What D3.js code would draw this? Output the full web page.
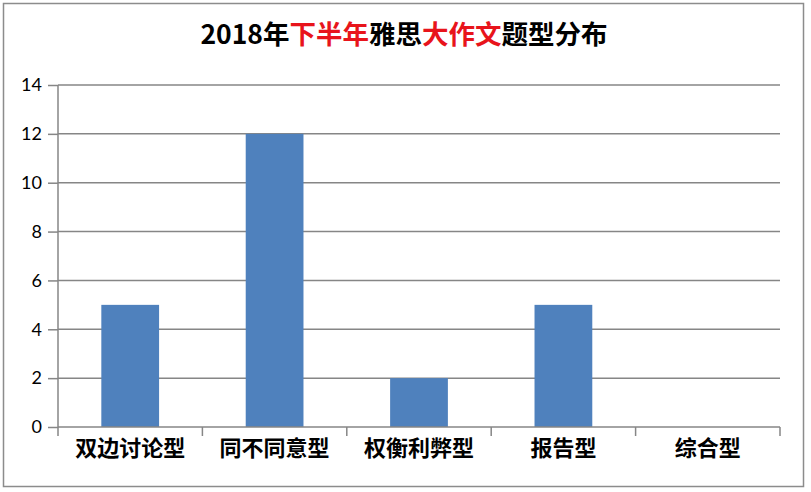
<!DOCTYPE html>
<html><head><meta charset="utf-8">
<script src="https://cdn.jsdelivr.net/npm/d3@7"></script>
<style>body{margin:0;background:#fff}svg{display:block}</style>
</head><body>
<svg id="c" width="811" height="492"></svg>
<script>
const categories = ["双边讨论型","同不同意型","权衡利弊型","报告型","综合型"];
const values = [5,12,2,5,0];
const yTicks = [0,2,4,6,8,10,12,14];
const titleParts = [["2018年","#000"],["下半年","#e8141b"],["雅思","#000"],["大作文","#e8141b"],["题型分布","#000"]];

const svg = d3.select("#c");
const L=58, R=780, T=85, B=427;
const x = d3.scaleBand().domain(categories).range([L,R]).paddingInner(0.6).paddingOuter(0.3);
const xb = d3.scaleBand().domain(categories).range([L,R]);
const y = d3.scaleLinear().domain([0,14]).range([B,T]);

svg.append("rect").attr("x",3.5).attr("y",3.5).attr("width",800).attr("height",483)
  .attr("fill","#fff").attr("stroke","#8c8c8c").attr("stroke-width",1.5);

const t = svg.append("text").attr("x",404).attr("y",44).attr("text-anchor","middle")
  .attr("font-family","'Noto Sans CJK SC',sans-serif").attr("font-weight","bold").attr("font-size",26.5);
titleParts.forEach(p=>t.append("tspan").attr("fill",p[1]).text(p[0]));

// gridlines
svg.append("g").selectAll("line").data(yTicks.filter(d=>d>0)).join("line")
  .attr("x1",L).attr("x2",R).attr("y1",d=>y(d)).attr("y2",d=>y(d))
  .attr("stroke","#868686").attr("stroke-width",1.5);

// y axis
const ya = svg.append("g").attr("transform",`translate(${L},0)`)
  .call(d3.axisLeft(y).tickValues(yTicks).tickSize(10).tickPadding(6).tickFormat(d3.format("d")));
ya.select(".domain").attr("stroke","#868686").attr("stroke-width",1.5).attr("d",`M0,${B}V${T}`);
ya.selectAll(".tick line").attr("stroke","#868686").attr("stroke-width",1.5);
ya.selectAll("text").attr("font-family","Lato,'Open Sans',sans-serif").attr("font-size",18).attr("fill","#000");

// bars
svg.append("g").selectAll("rect").data(values).join("rect")
  .attr("x",(d,i)=>x(categories[i])).attr("width",x.bandwidth())
  .attr("y",d=>y(d)).attr("height",d=>B-y(d)).attr("fill","#4f81bd");

// x axis
const xa = svg.append("g").attr("transform",`translate(0,${B})`)
  .call(d3.axisBottom(xb).tickSize(0).tickPadding(18));
xa.select(".domain").attr("stroke","#868686").attr("stroke-width",1.5).attr("d",`M${L},0H${R}`);
xa.selectAll("text").attr("font-family","'Noto Sans CJK SC',sans-serif").attr("font-weight","bold")
  .attr("font-size",22).attr("fill","#000").attr("dy","0.52em");
// category boundary ticks
svg.append("g").selectAll("line").data(d3.range(categories.length+1)).join("line")
  .attr("x1",i=>L+i*xb.step()).attr("x2",i=>L+i*xb.step()).attr("y1",B).attr("y2",B+9)
  .attr("stroke","#868686").attr("stroke-width",1.5);
</script>
</body></html>
